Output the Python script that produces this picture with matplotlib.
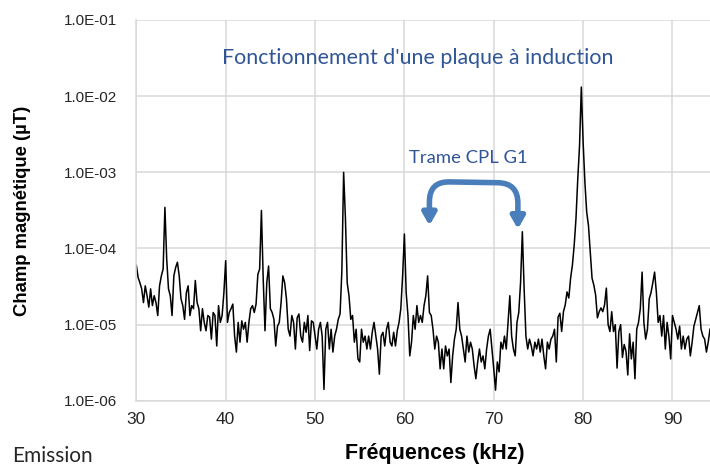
import numpy as np
import matplotlib
matplotlib.use("Agg")
import matplotlib.pyplot as plt
from matplotlib.ticker import FixedLocator, FuncFormatter

# spectre mesuré : pas de 0.2 kHz à partir de 30 kHz, valeurs en log10(µT)
f_start = 30.0
f_step = 0.2
log_champ = [
    -4.22, -4.38, -4.45, -4.53, -4.71, -4.49, -4.62, -4.77, -4.53, -4.75,   # 30
    -4.62, -4.71, -4.88, -4.49, -4.36, -4.27, -3.46, -4.14, -4.53, -4.62,   # 32
    -4.88, -4.36, -4.25, -4.18, -4.36, -4.66, -4.75, -4.93, -4.58, -4.49,   # 34
    -4.88, -4.75, -4.79, -4.42, -4.71, -4.79, -5.08, -4.79, -4.97, -5.08,   # 36
    -4.88, -4.90, -5.19, -4.84, -4.88, -5.28, -4.75, -4.97, -4.88, -4.58,   # 38
    -4.16, -4.97, -4.84, -4.79, -4.73, -5.15, -5.36, -4.97, -5.23, -4.95,   # 40
    -5.06, -4.97, -5.23, -4.97, -4.79, -4.75, -4.84, -4.73, -4.34, -4.27,   # 42
    -3.50, -4.40, -5.08, -4.45, -4.23, -4.79, -4.84, -4.93, -5.28, -5.02,   # 44
    -4.97, -4.71, -4.36, -4.45, -4.66, -5.06, -5.15, -4.88, -4.97, -5.32,   # 46
    -4.91, -4.86, -5.15, -5.23, -4.97, -5.10, -4.88, -5.34, -4.95, -4.97,   # 48
    -5.15, -5.32, -5.06, -4.97, -5.15, -5.85, -5.06, -4.97, -5.32, -5.06,   # 50
    -5.36, -5.15, -5.06, -4.93, -4.86, -4.30, -3.00, -3.60, -4.45, -4.62,   # 52
    -4.93, -4.88, -5.23, -5.06, -5.45, -5.49, -5.06, -5.23, -5.15, -5.32,   # 54
    -5.15, -5.32, -5.10, -4.97, -5.15, -5.32, -5.65, -5.15, -5.10, -5.28,   # 56
    -5.06, -4.97, -5.23, -5.28, -5.10, -5.28, -5.08, -4.97, -4.79, -4.36,   # 58
    -3.81, -4.58, -4.88, -5.41, -5.23, -4.88, -5.06, -4.75, -4.97, -4.88,   # 60
    -4.97, -4.75, -4.62, -4.36, -4.84, -4.88, -5.06, -5.32, -5.15, -5.23,   # 62
    -5.58, -5.32, -5.58, -5.28, -5.41, -5.32, -5.76, -5.41, -5.19, -5.06,   # 64
    -4.71, -5.06, -5.15, -5.32, -5.49, -5.15, -5.36, -5.23, -5.32, -5.54,   # 66
    -5.71, -5.49, -5.32, -5.49, -5.41, -5.58, -5.32, -5.15, -5.06, -5.32,   # 68
    -5.58, -5.86, -5.49, -5.62, -5.23, -5.32, -5.15, -5.32, -4.97, -4.62,   # 70
    -5.15, -5.32, -5.41, -4.97, -4.84, -4.45, -3.78, -4.53, -5.15, -5.32,   # 72
    -5.19, -5.28, -5.41, -5.23, -5.32, -5.19, -5.36, -5.19, -5.41, -5.58,   # 74
    -5.23, -5.32, -5.19, -5.15, -5.06, -5.49, -4.90, -4.85, -5.09, -4.83,   # 76
    -4.74, -4.57, -4.65, -4.39, -4.22, -3.96, -3.61, -3.09, -2.65, -1.88,   # 78
    -2.60, -3.13, -3.52, -3.70, -4.04, -4.39, -4.48, -4.61, -4.91, -4.83,   # 80
    -4.78, -4.83, -4.74, -4.52, -5.00, -5.09, -4.83, -5.09, -5.00, -5.57,   # 82
    -5.09, -5.00, -5.43, -5.26, -5.35, -5.66, -5.12, -5.45, -5.23, -5.71,   # 84
    -5.06, -4.97, -4.79, -4.31, -4.97, -5.19, -5.06, -4.66, -4.58, -4.45,   # 86
    -4.31, -4.58, -4.97, -4.88, -5.15, -4.88, -5.32, -4.97, -5.15, -5.45,   # 88
    -4.88, -4.97, -5.06, -5.19, -5.02, -5.32, -5.15, -5.32, -5.19, -5.15,   # 90
    -5.41, -5.23, -5.02, -4.93, -4.84, -4.75, -5.06, -5.15, -5.19, -5.36,   # 92
    -5.23, -5.06,                                                           # 94
]

y_ticks = [1e-6, 1e-5, 1e-4, 1e-3, 1e-2, 1e-1]
x_ticks = [30, 40, 50, 60, 70, 80, 90]

titre = "Fonctionnement d'une plaque à induction"
trame = "Trame CPL G1"
# extrémités de la flèche (kHz, µT)
fleche_g = (62.8, 2.0e-4)
fleche_d = (72.7, 1.8e-4)

freq = f_start + f_step * np.arange(len(log_champ))
champ = 10.0 ** np.array(log_champ)

narrow = ["Liberation Sans Narrow", "Liberation Sans", "DejaVu Sans"]
bold = ["Liberation Sans", "DejaVu Sans"]
calibri = ["Lato", "DejaVu Sans"]
grid_c = "#D9D9D9"
bleu = "#2F5597"

fig = plt.figure(figsize=(7.1, 4.65), dpi=100)
ax = fig.add_axes([0.192, 0.138, 0.808, 0.819])

ax.plot(freq, champ, color="black", lw=1.1)

ax.set_yscale("log")
ax.set_ylim(1e-6, 1e-1)
ax.set_xlim(30, 94.2)
ax.yaxis.set_major_locator(FixedLocator(y_ticks))
ax.yaxis.set_minor_locator(FixedLocator([]))
ax.yaxis.set_major_formatter(FuncFormatter(lambda v, p: "%.1E" % v))
ax.xaxis.set_major_locator(FixedLocator(x_ticks))

ax.grid(True, color=grid_c, lw=1.1)
ax.set_axisbelow(True)
for s in ["top", "right"]:
    ax.spines[s].set_visible(False)
for s in ["left", "bottom"]:
    ax.spines[s].set_color(grid_c)
    ax.spines[s].set_linewidth(1.1)
ax.tick_params(length=0, colors="#262626")
for lab in ax.get_yticklabels():
    lab.set_family(narrow)
    lab.set_fontsize(11)
for lab in ax.get_xticklabels():
    lab.set_family(narrow)
    lab.set_fontsize(12.5)
ax.tick_params(axis="y", pad=14)
ax.tick_params(axis="x", pad=8)

ax.set_ylabel("Champ magnétique (µT)", family=bold, fontsize=13.3, fontweight="bold")
ax.yaxis.set_label_coords(-0.183, 0.5)
ax.set_xlabel("Fréquences (kHz)", family=bold, fontsize=15.5, fontweight="bold")
ax.xaxis.label.set_va("center")
ax.xaxis.set_label_coords(0.52, -0.137)
fig.text(0.017, 0.02, "Emission", family=calibri, fontsize=15, color="#262626",
         va="center")

ax.text(0.49, 0.90, titre, transform=ax.transAxes, ha="center", va="center",
        family=calibri, fontsize=15.4, color=bleu)
ax.text(0.579, 0.638, trame, transform=ax.transAxes, ha="center", va="center",
        family=calibri, fontsize=13.3, color=bleu)

ax.annotate("", xy=fleche_d, xytext=fleche_g,
            arrowprops=dict(arrowstyle="<|-|>,head_length=0.7,head_width=0.4",
                            connectionstyle="arc,angleA=90,angleB=90,armA=44,armB=46,rad=20",
                            color="#4A7EBB", lw=4, shrinkA=0, shrinkB=0))

fig.savefig("out.png", dpi=100)
